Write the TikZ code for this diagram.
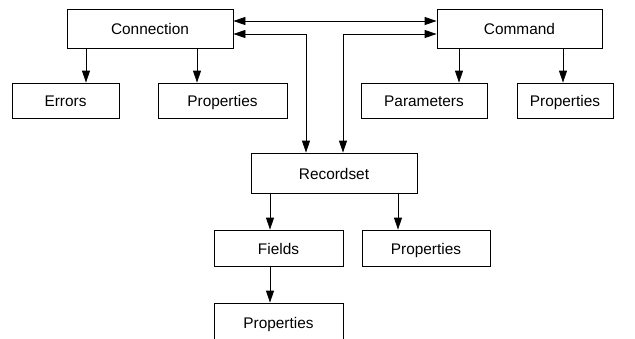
\documentclass[tikz,border=0pt]{standalone}
\usepackage{fontspec}
\setmainfont{Liberation Sans}
\usepackage{tikz}
\usetikzlibrary{arrows.meta}

\tikzset{
  obj/.style={draw, line width=0.8pt, inner sep=0pt, text height=12pt, text depth=0pt,
    font=\fontsize{15.4}{18}\selectfont},
  arr/.style={line width=0.8pt, -{Triangle[length=12pt,width=8pt]}},
  dbl/.style={line width=0.8pt, {Triangle[length=12pt,width=8pt]}-{Triangle[length=12pt,width=8pt]}}
}

\begin{document}
\begin{tikzpicture}[x=1pt, y=-1pt]
    \path[use as bounding box, clip] (0,0) rectangle (635,338);

    \node[obj, minimum width=166pt, minimum height=39pt] (conn) at (150,28.5) {Connection};
    \node[obj, minimum width=107pt, minimum height=35pt] (errors) at (65.5,100.5) {Errors};
    \node[obj, minimum width=129pt, minimum height=35pt] (connprops) at (222.5,100.5) {Properties};

    \node[obj, minimum width=165pt, minimum height=39pt] (cmd) at (519.5,28.5) {Command};
    \node[obj, minimum width=126pt, minimum height=35pt] (params) at (424,100.5) {Parameters};
    \node[obj, minimum width=96pt, minimum height=35pt] (cmdprops) at (565,100.5) {Properties};

    \node[obj, minimum width=166pt, minimum height=40pt] (rs) at (334,173) {Recordset};
    \node[obj, minimum width=129pt, minimum height=36pt] (fields) at (278.5,248) {Fields};
    \node[obj, minimum width=128pt, minimum height=36pt] (rsprops) at (426,248) {Properties};
    % bottom edge falls outside the page
    \node[obj, minimum width=129pt, minimum height=38pt] (fieldprops) at (278.5,322) {Properties};

    % links between the three top-level objects
    \draw[dbl] ([yshift=7.5pt]conn.east) -- ([yshift=7.5pt]cmd.west);
    \draw[dbl] ([yshift=-5.5pt]conn.east) -| ([xshift=-28pt]rs.north);
    \draw[dbl] ([yshift=-5.5pt]cmd.west) -| ([xshift=9pt]rs.north);

    % collections
    \draw[arr] ([xshift=-64pt]conn.south) -- ([xshift=-64pt]conn.south |- errors.north);
    \draw[arr] ([xshift=47pt]conn.south) -- ([xshift=47pt]conn.south |- connprops.north);
    \draw[arr] ([xshift=-60.5pt]cmd.south) -- ([xshift=-60.5pt]cmd.south |- params.north);
    \draw[arr] ([xshift=43.5pt]cmd.south) -- ([xshift=43.5pt]cmd.south |- cmdprops.north);
    \draw[arr] ([xshift=-64pt]rs.south) -- ([xshift=-64pt]rs.south |- fields.north);
    \draw[arr] ([xshift=64pt]rs.south) -- ([xshift=64pt]rs.south |- rsprops.north);
    \draw[arr] ([xshift=-8.5pt]fields.south) -- ([xshift=-8.5pt]fields.south |- fieldprops.north);
\end{tikzpicture}
\end{document}
